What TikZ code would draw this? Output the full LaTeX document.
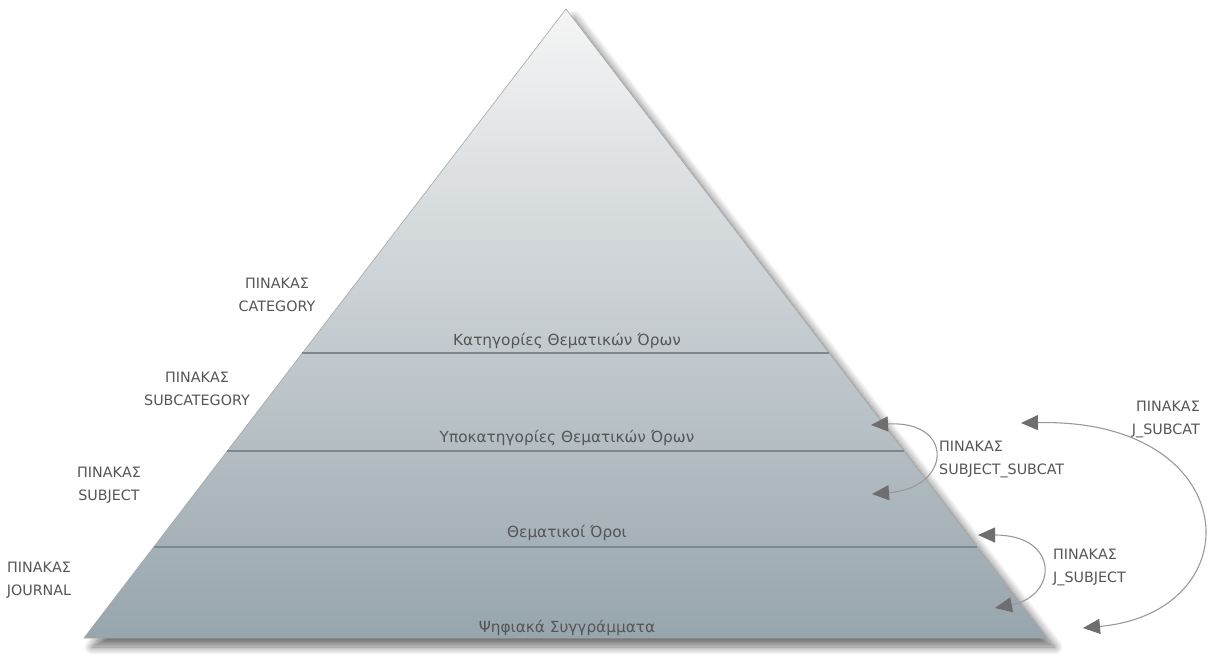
\documentclass[tikz,border=0pt]{standalone}
\usepackage{fontspec}
\setmainfont{DejaVu Sans}
\usetikzlibrary{calc,arrows.meta,shadows.blur}

\definecolor{txt}{HTML}{555555}
\definecolor{pyrtop}{HTML}{F5F5F5}
\definecolor{pyrmid}{HTML}{C6CDD1}
\definecolor{pyrbot}{HTML}{97A5AD}
\definecolor{layerline}{HTML}{7E898F}
\definecolor{linkline}{HTML}{999999}
\definecolor{linkhead}{HTML}{6E6E6E}

\tikzset{
  lbl/.style={text=txt, font=\fontsize{15.3}{23}\selectfont, align=center, inner sep=0pt},
  tbl/.style={text=txt, font=\fontsize{14.3}{23}\selectfont, align=center, inner sep=0pt},
  tblL/.style={tbl, align=left, anchor=west},
  tblR/.style={tbl, align=right, anchor=east},
  layer/.style={draw=layerline, line width=2.6pt},
  link/.style={draw=linkline, line width=1.1pt,
    {Triangle[width=15pt,length=17pt,color=linkhead]}-{Triangle[width=15pt,length=17pt,color=linkhead]}},
}

\begin{document}
\begin{tikzpicture}[x=1pt,y=-1pt]
  \useasboundingbox (0,0) rectangle (1208,657);

  % pyramid outline points
  \coordinate (apex) at (566,9);
  \coordinate (bl) at (84,638);
  \coordinate (br) at (1047,638);

  % pyramid body with soft drop shadow
  \shade[top color=pyrtop, bottom color=pyrbot, middle color=pyrmid,
         draw=black!35, line width=0.6pt,
         blur shadow={shadow xshift=8pt, shadow yshift=-9pt, shadow blur steps=12, shadow blur radius=8pt, shadow opacity=55}]
    (apex) -- (br) -- (bl) -- cycle;

  % layer separators
  \foreach \yy/\nm in {353/a, 451/b, 547/c}{
    \pgfmathsetmacro\t{(\yy-9)/629}
    \coordinate (L\nm) at ($(apex)!\t!(bl)$);
    \coordinate (R\nm) at ($(apex)!\t!(br)$);
    \draw[layer] (L\nm) -- (R\nm);
  }

  % layer titles
  \node[lbl] (cat)    at (567,341) {Κατηγορίες Θεματικών Όρων};
  \node[lbl] (subcat) at (567,438) {Υποκατηγορίες Θεματικών Όρων};
  \node[lbl] (subj)   at (567,533) {Θεματικοί Όροι};
  \node[lbl] (jour)   at (567,628) {Ψηφιακά Συγγράμματα};

  % table names on the left
  \node[tbl] (tcat)    at (277,295) {ΠΙΝΑΚΑΣ\\CATEGORY};
  \node[tbl] (tsubcat) at (197,389) {ΠΙΝΑΚΑΣ\\SUBCATEGORY};
  \node[tbl] (tsubj)   at (109,485) {ΠΙΝΑΚΑΣ\\SUBJECT};
  \node[tbl] (tjour)   at (39,580)  {ΠΙΝΑΚΑΣ\\JOURNAL};

  % link tables on the right
  \node[tblL] (tss) at (939,459) {ΠΙΝΑΚΑΣ\\SUBJECT\_SUBCAT};
  \node[tblL] (tjs) at (1053,567) {ΠΙΝΑΚΑΣ\\J\_SUBJECT};
  \node[tblR] (tjc) at (1200,419) {ΠΙΝΑΚΑΣ\\J\_SUBCAT};

  % link arrow end points
  \coordinate (ssA) at (871,425);
  \coordinate (ssB) at (872,494);
  \coordinate (jsA) at (978,535);
  \coordinate (jsB) at (995,608);
  \coordinate (jcA) at (1021,423);
  \coordinate (jcB) at (1083,628);

  % link arrows
  \draw[link] (ssA) .. controls (955,420) and (952,488) .. (ssB);
  \draw[link] (jsA) .. controls (1060,535) and (1058,596) .. (jsB);
  \draw[link] (jcA) .. controls (1245,418) and (1255,612) .. (jcB);
\end{tikzpicture}
\end{document}
